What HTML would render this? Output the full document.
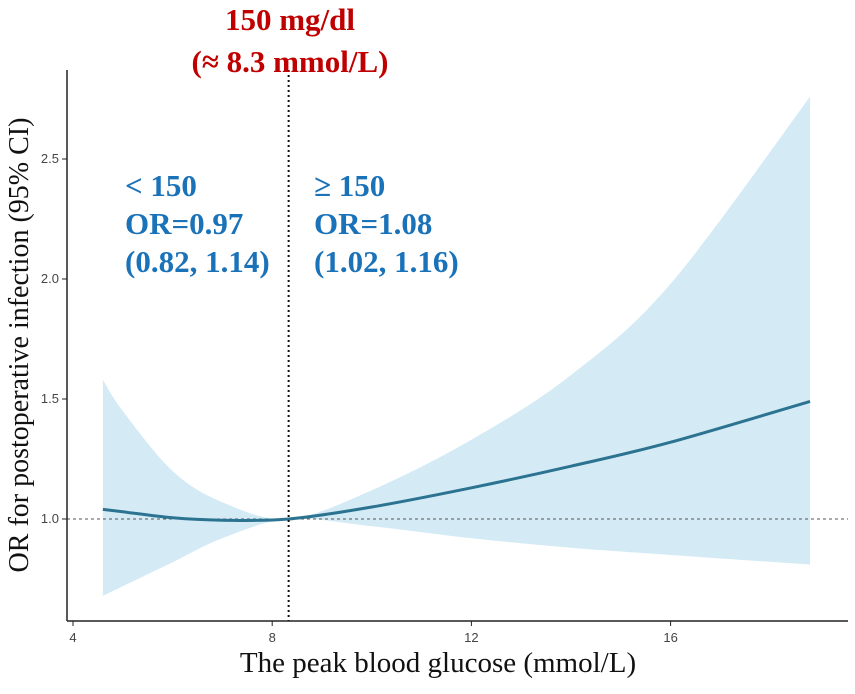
<!DOCTYPE html>
<html><head><meta charset="utf-8"><style>
body{margin:0;background:#fff}
svg text{font-family:"Liberation Serif",serif}
</style></head><body>
<svg width="855" height="689" xmlns="http://www.w3.org/2000/svg">
<g id="plot"></g>
<line x1="67" y1="70" x2="67" y2="621" stroke="#222" stroke-width="1.5"/>
<line x1="67" y1="621" x2="848" y2="621" stroke="#222" stroke-width="1.5"/>
<g id="ticks"></g>
<text x="290" y="30" text-anchor="middle" font-size="31" font-weight="bold" fill="#c00000">150 mg/dl</text>
<text x="290" y="72" text-anchor="middle" font-size="31" font-weight="bold" fill="#c00000">(≈ 8.3 mmol/L)</text>
<g font-size="31" font-weight="bold" fill="#1a72b8">
<text x="125" y="196">&lt; 150</text><text x="125" y="234">OR=0.97</text><text x="125" y="272">(0.82, 1.14)</text></g>
<g font-size="31" font-weight="bold" fill="#1a72b8">
<text x="314" y="196">≥ 150</text><text x="314" y="234">OR=1.08</text><text x="314" y="272">(1.02, 1.16)</text></g>
<text x="438" y="672" text-anchor="middle" font-size="29" fill="#111">The peak blood glucose (mmol/L)</text>
<text transform="translate(28,345) rotate(-90)" text-anchor="middle" font-size="28" fill="#111">OR for postoperative infection (95% CI)</text>
</svg>
<script>
const xs=[4.6,5,6,7,8.33,10,12,14,16,18.8];
const orv=[1.04,1.03,1.005,0.995,1.0,1.05,1.13,1.22,1.32,1.49];
const upper=[1.58,1.45,1.2,1.07,1.0,1.12,1.33,1.6,1.98,2.76];
const lower=[0.68,0.72,0.82,0.92,1.0,0.97,0.92,0.88,0.85,0.81];
const xTicks=[4,8,12,16];
const yTicks=[1.0,1.5,2.0,2.5];
const cutoff=8.33;
const X=v=>73+(v-4)*49.8, Y=v=>519-(v-1)*240;
const NS="http://www.w3.org/2000/svg";
const plot=document.getElementById('plot'), tk=document.getElementById('ticks');
function mk(tag,attrs,parent){const e=document.createElementNS(NS,tag);for(const k in attrs)e.setAttribute(k,attrs[k]);parent.appendChild(e);return e;}
function smooth(pts){let d="M"+pts[0][0]+","+pts[0][1];for(let i=0;i<pts.length-1;i++){const p0=pts[i-1]||pts[i],p1=pts[i],p2=pts[i+1],p3=pts[i+2]||p2;
d+=` C${p1[0]+(p2[0]-p0[0])/6},${p1[1]+(p2[1]-p0[1])/6} ${p2[0]-(p3[0]-p1[0])/6},${p2[1]-(p3[1]-p1[1])/6} ${p2[0]},${p2[1]}`;}return d;}
const up=xs.map((x,i)=>[X(x),Y(upper[i])]), lo=xs.map((x,i)=>[X(x),Y(lower[i])]).reverse();
const band=mk('path',{d:smooth(up)+" L"+smooth(lo).slice(1)+" Z",fill:"#d4ebf6",stroke:"none"},plot);


const ref=mk('line',{x1:67,x2:848,y1:Y(1),y2:Y(1),stroke:"#555","stroke-width":1,"stroke-dasharray":"3,3"},plot);


const line=mk('path',{d:smooth(xs.map((x,i)=>[X(x),Y(orv[i])])),fill:"none",stroke:"#2b7390","stroke-width":3},plot);


const cut=mk('line',{x1:X(cutoff),x2:X(cutoff),y1:70,y2:621,stroke:"#111","stroke-width":2,"stroke-dasharray":"2,3"},plot);


xTicks.forEach(t=>{const g=mk('g',{},tk);


mk('line',{x1:X(t),x2:X(t),y1:621,y2:626,stroke:"#222"},g);
const tx=mk('text',{x:X(t),y:642,"text-anchor":"middle","font-size":13,fill:"#444",style:"font-family:'Liberation Sans',sans-serif"},g);tx.textContent=t;});
yTicks.forEach(t=>{const g=mk('g',{},tk);


mk('line',{x1:62,x2:67,y1:Y(t),y2:Y(t),stroke:"#222"},g);
const tx=mk('text',{x:59,y:Y(t)+4,"text-anchor":"end","font-size":13,fill:"#444",style:"font-family:'Liberation Sans',sans-serif"},g);tx.textContent=t.toFixed(1);});
</script>
</body></html>
